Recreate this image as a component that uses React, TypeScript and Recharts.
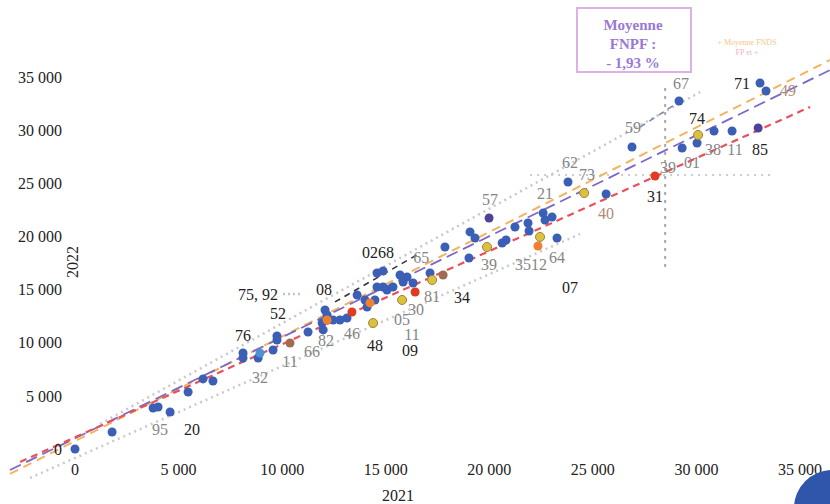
import React from "react";
import {
  ScatterChart,
  Scatter,
  XAxis,
  YAxis,
  ReferenceLine,
} from "recharts";

// axis ticks
const xTicks = [0, 5000, 10000, 15000, 20000, 25000, 30000, 35000];
const yTicks = [0, 5000, 10000, 15000, 20000, 25000, 30000, 35000];

// departments, 2021 vs 2022
const bluePoints = [
  [0, 0], [1790, 1600], [3770, 3860], [4010, 3950], [4590, 3480], [5460, 5360],
  [6180, 6590], [6660, 6400], [8110, 9030], [8110, 8560], [8840, 8560], [9560, 9310],
  [9750, 10250], [9750, 10630], [11250, 11010], [11930, 11850], [11980, 11200],
  [12070, 13080], [12170, 12610], [12460, 12140], [12790, 12140], [13130, 12320],
  [13620, 14490], [14000, 14020], [14100, 13360], [14480, 14020], [14580, 15240],
  [14870, 15240], [15060, 14960], [15350, 15240], [14580, 16560], [14870, 16750],
  [15840, 15710], [16030, 16180], [16320, 15620], [17140, 16560], [17860, 19000],
  [15690, 16370], [19020, 17970], [19070, 20420], [19310, 19850], [20620, 19380],
  [20810, 19660], [21240, 20890], [21870, 21260], [21920, 20510], [22600, 22200],
  [22690, 21540], [23030, 21830], [23270, 19850], [23800, 25120], [25640, 23990],
  [26890, 28410], [29160, 32740], [29310, 28320], [30030, 28790], [30850, 29920],
  [31720, 29920], [33070, 34430], [33360, 33680],
];
const lightBluePoints = [[8930, 9030]];
const yellowPoints = [
  [14390, 11850], [17240, 15900], [19890, 19000], [22450, 19950], [24580, 24080],
  [30080, 29540], [15790, 14020],
];
const orangePoints = [[12170, 12140], [14240, 13740], [22350, 19100]];
const redPoints = [[13370, 12890], [16420, 14770], [28000, 25680]];
const brownPoints = [[10380, 9970], [17770, 16370]];
const purplePoints = [[32980, 30200], [19990, 21730]];

// department labels [x, y, text]
const darkLabels = [
  [5650, 1790, "20"], [8110, 10630, "76"], [9800, 12700, "52"], [8840, 14580, "75, 92"],
  [12020, 14960, "08"], [14480, 9780, "48"], [16170, 9310, "09"], [18680, 14210, "34"],
  [14630, 18530, "0268"], [23900, 15150, "07"], [28000, 23710, "31"], [30030, 31050, "74"],
  [33070, 28220, "85"], [32200, 34340, "71"],
];
const grayLabels = [
  [4100, 1790, "95"], [8930, 6680, "32"], [10380, 8190, "11"], [11440, 9130, "66"],
  [12120, 10160, "82"], [13370, 10910, "46"], [15790, 12140, "05"], [16460, 13080, "30"],
  [16270, 10730, "11"], [17240, 14300, "81"], [16710, 17970, "65"], [19990, 17310, "39"],
  [22010, 17310, "3512"], [23270, 17970, "64"], [20040, 23430, "57"], [22690, 23990, "21"],
  [23900, 26910, "62"], [24720, 25870, "73"], [26940, 30200, "59"], [29260, 34340, "67"],
  [28630, 26440, "39"], [29790, 26910, "01"], [30800, 28130, "38"], [31860, 28130, "11"],
];
const brownLabels = [[25640, 22200, "40"], [34420, 33680, "49"]];

// trend lines and guides [[x1, y1], [x2, y2]]
const orangeTrend = [[-3140, -2350], [36450, 36600]];
const purpleTrend = [[-3140, -1980], [36450, 35650]];
const redTrend = [[-2650, -1220], [35490, 32180]];
const upperBand = [[1210, 2350], [30180, 33580]];
const lowerBand = [[-2170, -2730], [24380, 20230]];
const darkTrend = [[12550, 13830], [16660, 18440]];
const blueGrayTrend = [[27280, 30290], [29450, 33020]];
const leader7592 = [[10040, 14580], [10960, 14580]];
const meanX = [[28490, 33960], [28490, 16840]];
const meanY = [[21970, 25780], [33800, 25780]];

const FONT = "'Liberation Serif', 'DejaVu Serif', serif";

const toPts = (arr: number[][]) => arr.map(([x, y]) => ({ x, y }));
const toLabels = (arr: any[][]) => arr.map(([x, y, t]) => ({ x, y, t }));
const fmt = (v: number) => (v === 0 ? "0" : `${v / 1000} 000`);

function labelShape(color: string) {
  return (p: any) => (
    <text
      x={p.cx}
      y={p.cy}
      textAnchor="middle"
      dominantBaseline="central"
      fontFamily={FONT}
      fontSize={16}
      fill={color}
    >
      {p.payload.t}
    </text>
  );
}

function Seg({ seg, stroke, width, dash }: { seg: number[][]; stroke: string; width: number; dash: string }) {
  return (
    <ReferenceLine
      segment={[{ x: seg[0][0], y: seg[0][1] }, { x: seg[1][0], y: seg[1][1] }]}
      ifOverflow="visible"
      stroke={stroke}
      strokeWidth={width}
      strokeDasharray={dash}
    />
  );
}

export default function App() {
  const tickStyle = { fontFamily: FONT, fontSize: 16, fill: "#222" };
  return (
    <div style={{ position: "absolute", left: 0, top: 0, width: 830, height: 504, overflow: "hidden", background: "#fff" }}>
      <ScatterChart width={830} height={504} margin={{ top: 20, right: 5, bottom: 16, left: 0 }}>
        <XAxis
          type="number"
          dataKey="x"
          domain={[-1014, 36207]}
          ticks={xTicks}
          tickFormatter={fmt}
          axisLine={false}
          tickLine={false}
          tickSize={0}
          tickMargin={6}
          height={30}
          tick={tickStyle}
        />
        <YAxis
          type="number"
          dataKey="y"
          domain={[-850, 40360]}
          ticks={yTicks}
          tickFormatter={fmt}
          axisLine={false}
          tickLine={false}
          tickSize={0}
          tickMargin={-8}
          width={54}
          tick={tickStyle}
        />

        {Seg({ seg: upperBand, stroke: "#c8c8c8", width: 2.5, dash: "2 4" })}
        {Seg({ seg: lowerBand, stroke: "#cacaca", width: 2.5, dash: "2 4" })}
        {Seg({ seg: meanX, stroke: "#aaaaaa", width: 2, dash: "3 5" })}
        {Seg({ seg: meanY, stroke: "#cccccc", width: 2, dash: "2 5" })}
        {Seg({ seg: leader7592, stroke: "#c4c4c4", width: 2.5, dash: "2 3" })}
        {Seg({ seg: orangeTrend, stroke: "#f5b35e", width: 2, dash: "9 6" })}
        {Seg({ seg: purpleTrend, stroke: "#7b68c8", width: 1.8, dash: "12 6" })}
        {Seg({ seg: redTrend, stroke: "#e8505a", width: 2.2, dash: "7 5" })}
        {Seg({ seg: darkTrend, stroke: "#333333", width: 1.5, dash: "6 5" })}
        {Seg({ seg: blueGrayTrend, stroke: "#7a88a8", width: 1.5, dash: "6 5" })}

        <Scatter data={toPts(bluePoints)} fill="#3c5fb6" isAnimationActive={false} />
        <Scatter data={toPts(lightBluePoints)} fill="#4f92d4" isAnimationActive={false} />
        <Scatter data={toPts(purplePoints)} fill="#514099" isAnimationActive={false} />
        <Scatter data={toPts(brownPoints)} fill="#a36a52" isAnimationActive={false} />
        <Scatter data={toPts(orangePoints)} fill="#f08030" isAnimationActive={false} />
        <Scatter data={toPts(redPoints)} fill="#e03a22" isAnimationActive={false} />
        <Scatter data={toPts(yellowPoints)} fill="#dcc23c" stroke="#a08040" isAnimationActive={false} />

        <Scatter data={toLabels(darkLabels)} shape={labelShape("#222")} isAnimationActive={false} />
        <Scatter data={toLabels(grayLabels)} shape={labelShape("#858585")} isAnimationActive={false} />
        <Scatter data={toLabels(brownLabels)} shape={labelShape("#b08a78")} isAnimationActive={false} />
      </ScatterChart>

      <svg width={830} height={504} style={{ position: "absolute", left: 0, top: 0, pointerEvents: "none" }}>
        <text x={398} y={501} textAnchor="middle" fontFamily={FONT} fontSize={16} fill="#222">2021</text>
        <text
          x={0}
          y={0}
          transform="translate(78 262) rotate(-90)"
          textAnchor="middle"
          fontFamily={FONT}
          fontSize={16}
          fill="#222"
        >
          2022
        </text>

        <rect x={577} y={8} width={114} height={64} fill="#fff" stroke="#dcb2e2" strokeWidth={2} />
        <g fontFamily={FONT} fontSize={15} fontWeight="bold" fill="#9a78d6" textAnchor="middle">
          <text x={633} y={30}>Moyenne</text>
          <text x={633} y={49}>FNPF :</text>
          <text x={633} y={68}>- 1,93 %</text>
        </g>
        <g fontFamily={FONT} fontSize={8} textAnchor="middle">
          <text x={747} y={45} fill="#f2c890">+ Moyenne FNDS</text>
          <text x={747} y={55} fill="#f0b0c8">FP et +</text>
        </g>

        <circle cx={832} cy={508} r={38} fill="#2f56aa" />
      </svg>
    </div>
  );
}
